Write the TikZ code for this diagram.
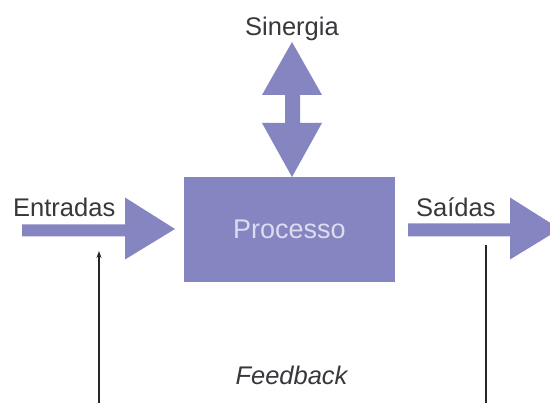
\documentclass[tikz,border=0pt]{standalone}
\usepackage{fontspec}
\setmainfont{Liberation Sans}
\usetikzlibrary{arrows.meta}
\definecolor{proc}{RGB}{133,133,194}
\definecolor{lbl}{RGB}{55,55,60}
\definecolor{proctext}{RGB}{220,220,240}
\begin{document}
\begin{tikzpicture}[x=1pt,y=-1pt,
  lbltext/.style={text=lbl,font=\fontsize{25.5}{30}\selectfont,inner sep=0pt},
  bigarrow/.style={fill=proc,draw=none},
  fbline/.style={draw=black!85,line width=1.9pt}]
\useasboundingbox (0,0) rectangle (550,403);
% process box
\node[fill=proc,minimum width=211pt,minimum height=105pt,inner sep=0pt,
  text=proctext,font=\fontsize{27}{32}\selectfont] (proc) at (289.5,229.5) {Processo};
% synergy double arrow
\fill[proc] (292,42) -- (322,95) -- (300,95) -- (300,123) -- (322,123) -- (292,177)
  -- (262,123) -- (285,123) -- (285,95) -- (262,95) -- cycle;
\node[lbltext,anchor=base] (sin) at (292,36) {Sinergia};
% input arrow
\fill[proc] (22,224.5) -- (125,224.5) -- (125,197.5) -- (175,229) -- (125,259.5)
  -- (125,236.5) -- (22,236.5) -- cycle;
\node[lbltext,anchor=base west] (ent) at (13,217) {Entradas};
% output arrow
\fill[proc] (408,223.5) -- (510,223.5) -- (510,197.5) -- (560,229) -- (510,259.5)
  -- (510,236.5) -- (408,236.5) -- cycle;
\node[lbltext,anchor=base west] (sai) at (416,217) {Saídas};
% feedback
\node[lbltext,anchor=base,font=\fontsize{25.5}{30}\selectfont\itshape] (fb) at (291.5,385) {Feedback};
\coordinate (fbLbot) at (99,403);
\coordinate (fbLtop) at (99,251);
\coordinate (fbRtop) at (486,245);
\coordinate (fbRbot) at (486,403);
\draw[fbline,-{Stealth[length=7pt,width=5pt]}] (fbLbot) -- (fbLtop);
\draw[fbline] (fbRtop) -- (fbRbot);
\end{tikzpicture}
\end{document}
